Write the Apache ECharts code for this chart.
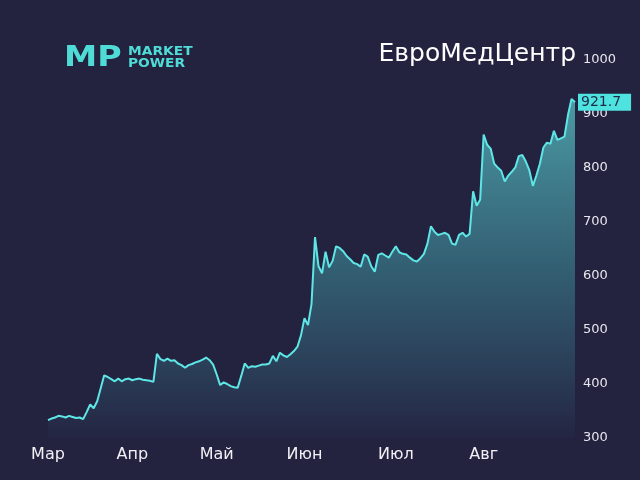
<!DOCTYPE html>
<html>
<head>
<meta charset="utf-8">
<script src="https://cdn.jsdelivr.net/npm/echarts@6/dist/echarts.min.js"></script>
<style>html,body{margin:0;padding:0;background:#23223f;}#c{width:640px;height:480px;}</style>
</head>
<body>
<div id="c"></div>
<script>
const monthNames = ["Мар", "Апр", "Май", "Июн", "Июл", "Авг"];
const monthIndex = [0, 24, 48, 73, 99, 124];
const yTicks = [300, 400, 500, 600, 700, 800, 900, 1000];
const prices = [
  333, 336, 338, 341, 340, 338, 341, 339, 337, 338,
  335, 348, 362, 355, 368, 392, 416, 413, 409, 405,
  410, 405, 409, 410, 407, 409, 410, 408, 407, 406,
  404, 456, 446, 443, 447, 443, 444, 438, 435, 430,
  435, 437, 440, 442, 445, 449, 444, 436, 418, 398,
  403, 400, 396, 394, 393, 415, 438, 430, 433, 432,
  434, 436, 436, 438, 452, 442, 458, 453, 450, 455,
  461, 469, 490, 522, 509, 548, 672, 618, 605, 645,
  616, 628, 655, 652, 646, 637, 631, 624, 622, 617,
  640, 636, 618, 608, 639, 642, 638, 634, 645, 655,
  644, 641, 640, 634, 629, 627, 633, 641, 660, 692,
  682, 676, 678, 680, 676, 660, 658, 676, 680, 673,
  678, 757, 730, 741, 862, 843, 836, 808, 801, 795,
  775, 786, 793, 801, 822, 824, 812, 796, 767, 786,
  808, 838, 847, 845, 869, 852, 855, 858, 898, 928,
  921.7
];
const categories = prices.map((_, i) => String(i));

const chart = echarts.init(document.getElementById('c'));
chart.setOption({
  backgroundColor: '#23223f',
  animation: false,
  grid: { left: 48, right: 65, top: 60, bottom: 42 },
  xAxis: {
    type: 'category',
    data: categories,
    boundaryGap: false,
    axisLine: { show: false },
    axisTick: { show: false },
    splitLine: { show: false },
    axisLabel: {
      interval: function (idx) { return monthIndex.indexOf(idx) >= 0; },
      formatter: function (v, idx) { const k = monthIndex.indexOf(idx); return k >= 0 ? monthNames[k] : ''; },
      color: '#f0f0f5',
      fontSize: 16,
      fontFamily: 'DejaVu Sans',
      margin: 9
    }
  },
  yAxis: {
    type: 'value',
    position: 'right',
    min: yTicks[0],
    max: yTicks[yTicks.length - 1],
    interval: 100,
    axisLine: { show: false },
    axisTick: { show: false },
    splitLine: { show: false },
    axisLabel: { color: '#e6e6ee', fontSize: 13, fontFamily: 'DejaVu Sans', margin: 8, formatter: function (v) { return String(v); } }
  },
  graphic: [
    { type: 'text', left: 64, top: 44, style: { text: 'MP', font: 'bold 29px "DejaVu Sans"', fill: '#4fdcd6' }, scaleX: 1.15 },
    { type: 'text', left: 128, top: 46, style: { text: 'MARKET', font: 'bold 12px "DejaVu Sans"', fill: '#4fdcd6' }, scaleX: 1.15 },
    { type: 'text', left: 128, top: 58, style: { text: 'POWER', font: 'bold 12px "DejaVu Sans"', fill: '#4fdcd6' }, scaleX: 1.15 },
    { type: 'text', right: 64, top: 42, style: { text: 'ЕвроМедЦентр', font: '25px "DejaVu Sans"', fill: '#ffffff' } }
  ],
  series: [{
    type: 'line',
    data: prices,
    showSymbol: false,
    symbol: 'none',
    lineStyle: { color: '#5ee6e6', width: 2 },
    areaStyle: {
      color: new echarts.graphic.LinearGradient(0, 0, 0, 1, [
        { offset: 0, color: 'rgba(95,215,215,0.95)' },
        { offset: 0.5, color: 'rgba(60,130,145,0.9)' },
        { offset: 1, color: 'rgba(36,38,68,1)' }
      ])
    },
    endLabel: {
      show: true,
      formatter: function (p) { return String(p.value); },
      backgroundColor: '#4fe3e0',
      color: '#1f2a48',
      fontSize: 14,
      fontFamily: 'DejaVu Sans',
      padding: [2, 10, 1, 3],
      distance: 3
    }
  }]
});
</script>
</body>
</html>
